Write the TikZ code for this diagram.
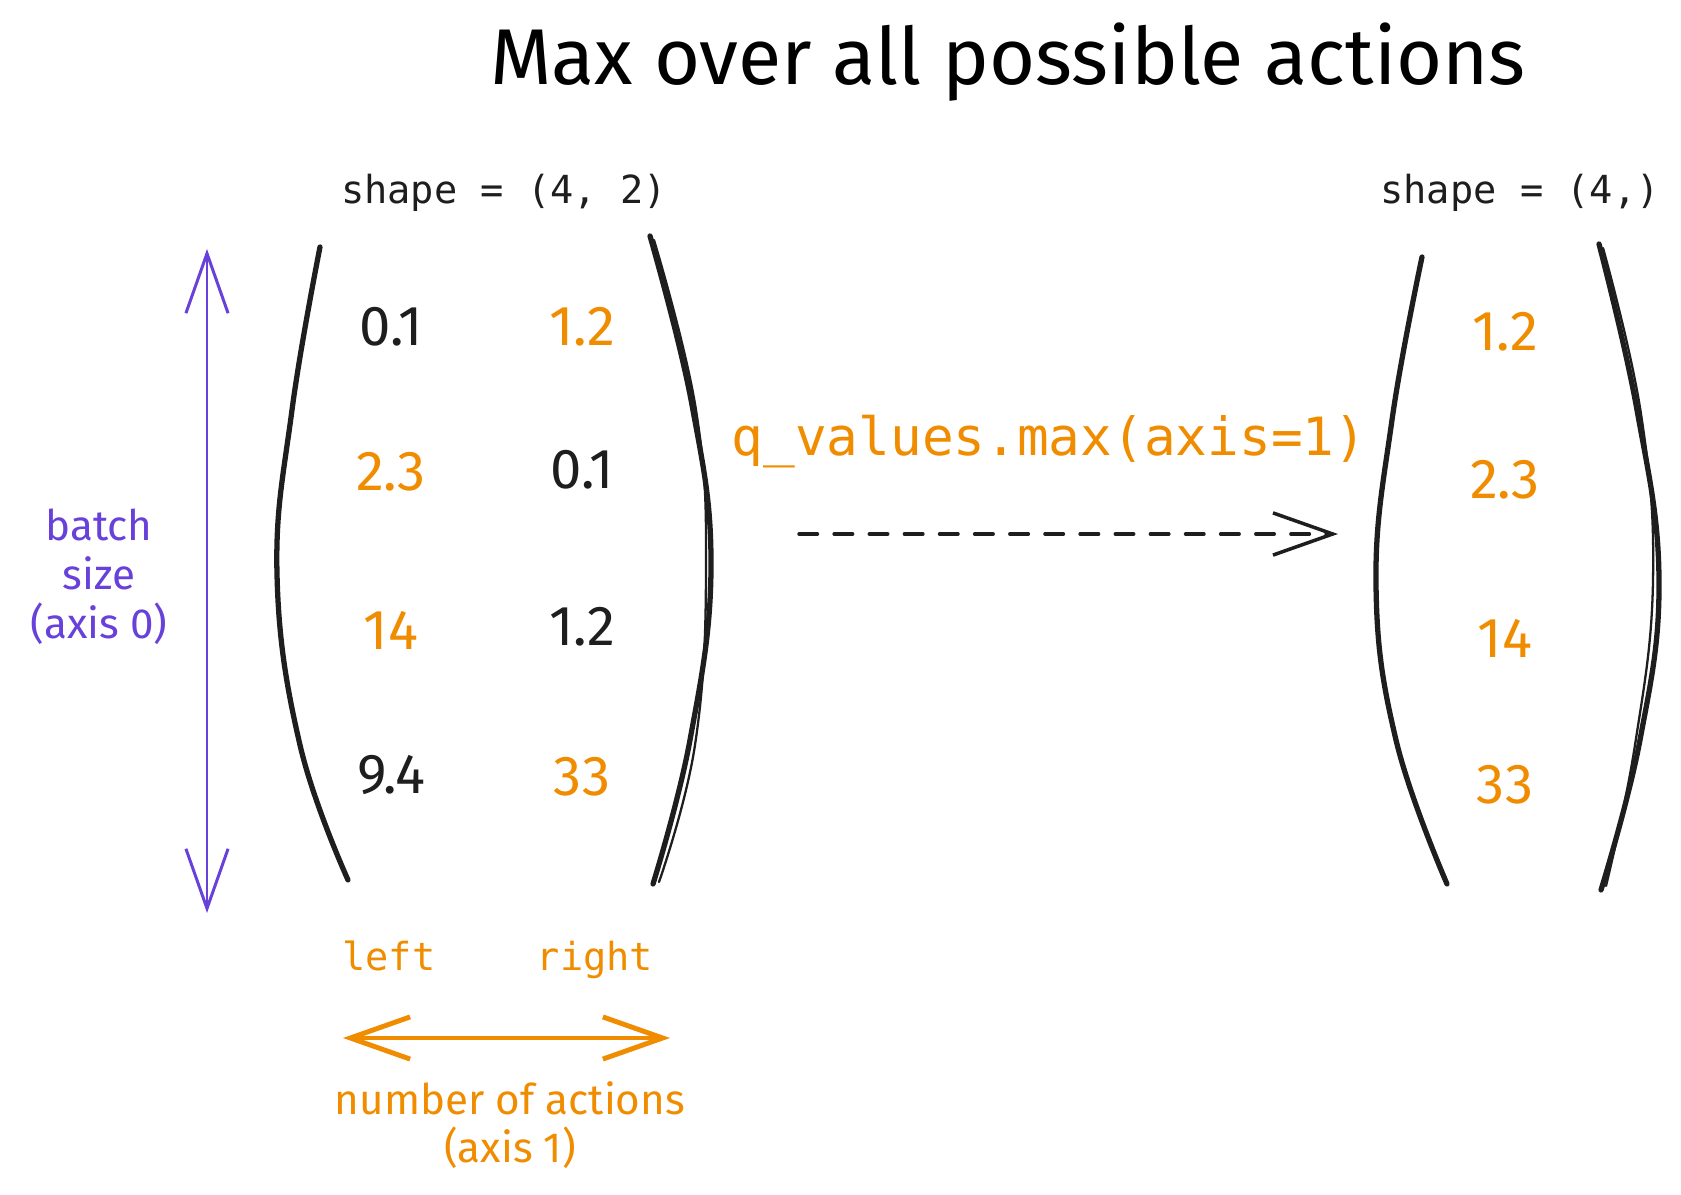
\documentclass[tikz,border=0pt]{standalone}
\usepackage{fontspec}
\setmainfont{Fira Sans}
\setmonofont{DejaVu Sans Mono}
\usepackage{xcolor}
\usetikzlibrary{arrows.meta}

\definecolor{qorange}{HTML}{F08C00}
\definecolor{qviolet}{HTML}{6741D9}
\definecolor{qink}{HTML}{1E1E1E}

\tikzset{
  val/.style={font=\fontsize{32}{36}\selectfont, text=qink},
  best/.style={val, text=qorange},
  hand/.style={font=\fontsize{24}{28}\selectfont, align=center},
  code/.style={font=\ttfamily\fontsize{22}{26}\selectfont, text=qink},
  bracket/.style={draw=qink, line width=3pt, line cap=round},
}

\begin{document}
\begin{tikzpicture}[x=0.02cm, y=-0.02cm, >={Straight Barb[length=34pt,width=24pt]}, line cap=round]
    \useasboundingbox (0,0) rectangle (1681,1195);
    \def\colA{391}   % column 1
    \def\colB{582}   % column 2
    \def\colR{1505}  % result column

    % title
    \node (title) at (1008,62) {\fontsize{45}{50}\selectfont Max over all possible actions};

    % shapes
    \node[code] (shapeA) at (504,193) {shape = (4, 2)};
    \node[code] (shapeB) at (1520,193) {shape = (4,)};

    % left matrix
    \draw[bracket] plot[smooth, tension=0.7] coordinates {(320,247) (292,410) (277,574) (300,745) (348,880)};
    \draw[bracket] plot[smooth, tension=0.7] coordinates {(650,236) (692,405) (711,568) (690,740) (653,884)};
    \draw[bracket, line width=1.3pt] plot[smooth, tension=0.7] coordinates {(654,240) (696,410) (706,570) (695,745) (659,882)};

    \node[val]  (a11) at (\colA,327) {0.1};
    \node[best] (a12) at (\colB,327) {1.2};
    \node[best] (a21) at (\colA,472) {2.3};
    \node[val]  (a22) at (\colB,470) {0.1};
    \node[best] (a31) at (\colA,630) {14};
    \node[val]  (a32) at (\colB,627) {1.2};
    \node[val]  (a41) at (\colA,775) {9.4};
    \node[best] (a42) at (\colB,777) {33};

    % result vector
    \draw[bracket] plot[smooth, tension=0.7] coordinates {(1422,257) (1392,420) (1376,584) (1396,740) (1447,884)};
    \draw[bracket] plot[smooth, tension=0.7] coordinates {(1599,244) (1637,410) (1659,579) (1640,740) (1601,890)};
    \draw[bracket, line width=1.3pt] plot[smooth, tension=0.7] coordinates {(1603,248) (1641,414) (1653,581) (1635,745) (1606,886)};

    \node[best] (r1) at (\colR,332) {1.2};
    \node[best] (r2) at (\colR,480) {2.3};
    \node[best] (r3) at (\colR,638) {14};
    \node[best] (r4) at (\colR,785) {33};

    % axis 0
    \coordinate (bTop) at (207,249);
    \coordinate (bBot) at (207,913);
    \draw[<->, qviolet, line width=1.7pt] (bTop) -- (bBot);
    \node[hand, text=qviolet] (batch) at (99,577) {batch\\size\\(axis 0)};

    % max call
    \node[code, text=qorange, font=\ttfamily\fontsize{30}{36}\selectfont] (qcall) at (1049,442) {q\_values.max(axis=1)};
    \coordinate (mFrom) at (799,534);
    \coordinate (mTo) at (1338,534);
    \draw[->, qink, line width=2pt, dash pattern=on 10.5pt off 9.5pt] (mFrom) -- (mTo);

    % axis 1
    \node[code, text=qorange, anchor=base] (left) at (389,970) {left};
    \node[code, text=qorange, anchor=base] (right) at (595,970) {right};
    \coordinate (aL) at (343,1038);
    \coordinate (aR) at (670,1038);
    \draw[<->, qorange, line width=2.8pt] (aL) -- (aR);
    \node[hand, text=qorange, font=\fontsize{24}{27}\selectfont] (nact) at (510,1125) {number of actions\\(axis 1)};
\end{tikzpicture}
\end{document}
